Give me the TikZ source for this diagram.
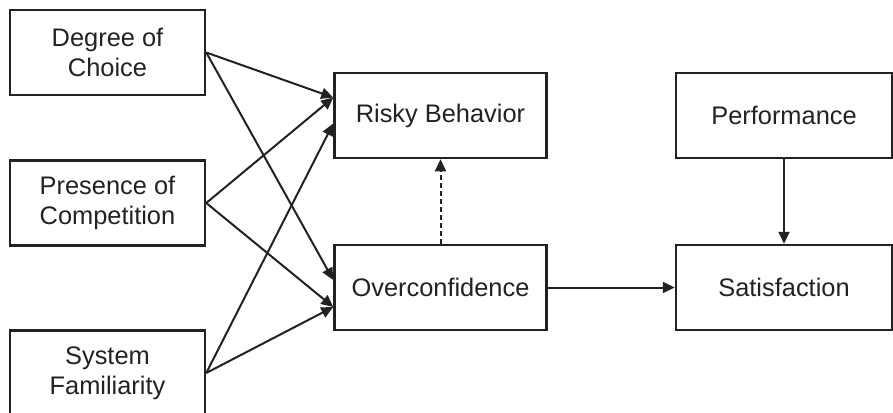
\documentclass[tikz,border=0pt]{standalone}
\usepackage{fontspec}
\setmainfont{Liberation Sans}
\usetikzlibrary{positioning, arrows.meta}

\definecolor{ink}{HTML}{222222}
\newcommand{\lab}{\fontsize{12.7}{15}\selectfont}

\tikzstyle{box} = [draw = ink, text = ink, line width = 1.25pt, minimum width = 97.5pt, minimum height = 42.5pt, inner sep = 0pt, align = center]
\tikzstyle{bigbox} = [box, minimum width = 106pt]
\tikzstyle{path} = [draw = ink, line width = 1pt, -{Triangle[length = 6pt, width = 5.5pt]}]

\begin{document}
\begin{tikzpicture}[thick, font = \lab]
        \def\gx{63.5pt}
        \def\gy{42.25pt}

        \useasboundingbox (-53.75pt, 26.25pt) rectangle (392.75pt, -179.75pt);

        \node[box] (deg) {Degree of\\Choice};
        \node at (deg.south) [box, below = 31.5pt] (pres) {Presence of\\Competition};
        \node at (pres.south) [box, below = 41.25pt] (sys) {System\\Familiarity};

        \node at (deg.east) [bigbox, right = \gx, yshift = -31.5pt] (risky) {Risky Behavior};
        \node at (risky.south) [bigbox, below = \gy] (over) {Overconfidence};
        \node at (risky.east) [bigbox, right = \gx, minimum width = 108pt] (perf) {Performance};
        \node at (perf.south) [bigbox, below = \gy, minimum width = 108pt] (sat) {Satisfaction};

        \path[path] (deg.east) -- ([yshift = 9pt]risky.west);
        \path[path] (deg.east) -- ([yshift = 3.75pt]over.west);
        \path[path] (pres.east) -- ([yshift = 9pt]risky.west);
        \path[path] (pres.east) -- ([yshift = -9.75pt]over.west);
        \path[path] (sys.east) -- ([yshift = -4pt]risky.west);
        \path[path] (sys.east) -- ([yshift = -9.75pt]over.west);

        \path[path, dash pattern = on 2.5pt off 1.5pt] (over) -- (risky);
        \path[path] (over) -- (sat);
        \path[path] (perf) -- (sat);
    \end{tikzpicture}
\end{document}
